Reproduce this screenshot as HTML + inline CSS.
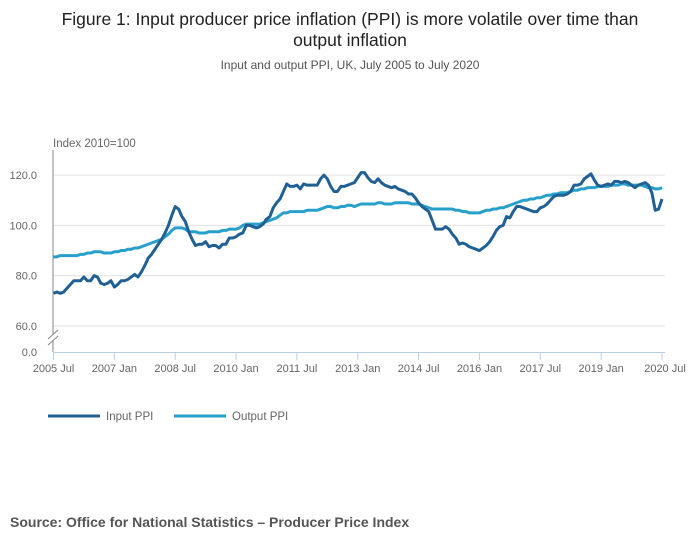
<!DOCTYPE html>
<html><head><meta charset="utf-8"><style>
body{margin:0;background:#fff;font-family:"Liberation Sans",sans-serif;}
svg text{font-family:"Liberation Sans",sans-serif;}
</style></head><body>
<svg width="700" height="549" viewBox="0 0 700 549" xmlns="http://www.w3.org/2000/svg">
<text x="350" y="25" text-anchor="middle" font-size="17.5" fill="#222">Figure 1: Input producer price inflation (PPI) is more volatile over time than</text>
<text x="350" y="46" text-anchor="middle" font-size="17.5" fill="#222">output inflation</text>
<text x="350" y="69" text-anchor="middle" font-size="12" fill="#555">Input and output PPI, UK, July 2005 to July 2020</text>
<text x="53" y="147" font-size="11.5" fill="#666">Index 2010=100</text>
<g id="grid"></g>
<g id="xaxis"></g>
<g id="series"></g>
<g>
<line x1="48" y1="416" x2="100" y2="416" stroke="#206095" stroke-width="3"/>
<text x="106" y="420" font-size="11.5" fill="#666">Input PPI</text>
<line x1="174" y1="416" x2="226" y2="416" stroke="#27a0cc" stroke-width="3"/>
<text x="232" y="420" font-size="11.5" fill="#666">Output PPI</text>
</g>
<text x="10" y="527" font-size="14" font-weight="bold" fill="#555">Source: Office for National Statistics – Producer Price Index</text>
</svg>
<script>
const yTicks = [60, 80, 100, 120];
const xTickLabels = ["2005 Jul","2007 Jan","2008 Jul","2010 Jan","2011 Jul","2013 Jan","2014 Jul","2016 Jan","2017 Jul","2019 Jan","2020 Jul"];
const inputPPI = [73,73.5,73,73.5,75,76.5,
78,78,78,79.5,78,78,80,79.5,77,76.5,77,78,
75.5,76.5,78,78,78.5,79.5,80.5,79.5,81.5,84,87,88.5,
90.5,92.5,94.5,97,100,104,107.5,106.5,103.5,101.5,97.5,94.5,
92,92.5,92.5,93.5,91.5,92,92,91,92.5,92.5,95,95,
95.5,96.5,97,100,100,99.5,99,99.5,100.5,102.5,103.5,107,
109,110.5,113.5,116.5,115.5,115.5,116,114.5,116.5,116,116,116,
116,118.5,120,118.5,115.5,113.5,113.5,115.5,115.5,116,116.5,117,
119,121,121,119,117.5,117,118.5,117,116,115.5,115,115.5,
114.5,114,113.5,112.5,112.5,111,109,107.5,106.5,105.5,102,98.5,
98.5,98.5,99.5,98.5,96.5,95,92.5,93,92.5,91.5,91,90.5,
90,91,92,93.5,95.5,98,99.5,100,103.5,103,105.5,107.5,
107.5,107,106.5,106,105.5,105.5,107,107.5,108.5,110,111.5,112,
112,112,112.5,113.5,116,116,116.5,118.5,119.5,120.5,118,116,
115.5,116,116.5,116,117.5,117.5,117,117.5,117,116,115,116,
116.5,117,116,113,106,106.5,110.5];
const outputPPI = [87.5,87.5,88,88,88,88,
88,88,88.5,88.5,89,89,89.5,89.5,89.5,89,89,89,
89.5,89.5,90,90,90.5,90.5,91,91,91.5,92,92.5,93,
93.5,94,94.5,95.5,96.5,98,99,99,99,98.5,97.5,97.5,
97.5,97,97,97,97.5,97.5,97.5,97.5,98,98,98.5,98.5,
98.5,99,100,100.5,100.5,100.5,100.5,100.5,101,101.5,102,102.5,
103,104,105,105,105.5,105.5,105.5,105.5,105.5,106,106,106,
106,106.5,107,107.5,107.5,107,107,107.5,107.5,108,108,107.5,
108,108.5,108.5,108.5,108.5,108.5,109,109,108.5,108.5,108.5,109,
109,109,109,109,108.5,108.5,108.5,108,107.5,107,106.5,106.5,
106.5,106.5,106.5,106.5,106.5,106,106,105.5,105.5,105,105,105,
105,105.5,106,106,106.5,106.5,107,107,107.5,108,108.5,109,
109.5,110,110,110.5,110.5,111,111,111.5,112,112,112.5,112.5,
113,113,113,113.5,114,114,114.5,114.5,115,115,115,115.5,
115.5,115.5,115.5,116,116,116,116.5,116.5,116,116,116,116,
116,115.5,115,115,114.5,114.5,115];

const NS="http://www.w3.org/2000/svg";
const x0=53.5, x1=662, nMonths=180;
const xScale = i => x0 + (x1-x0)*i/nMonths;
const yScale = v => v<=0 ? 352 : 326 - (v-60)*2.515;
function mk(tag, attrs, parent){const e=document.createElementNS(NS,tag);for(const k in attrs)e.setAttribute(k,attrs[k]);parent.appendChild(e);return e;}
const grid=document.getElementById('grid');
yTicks.forEach(t=>{
  const l=mk('line',{x1:53,x2:665,y1:yScale(t),y2:yScale(t),stroke:'#e0e0e0','stroke-width':1},grid);
  
  
  const tx=mk('text',{x:37,y:yScale(t)+4,'text-anchor':'end','font-size':11,fill:'#666'},grid);
  tx.textContent=t.toFixed(1);
  
  
});
const z=mk('text',{x:37,y:356,'text-anchor':'end','font-size':11,fill:'#666'},grid);
z.textContent='0.0';


const ya=mk('path',{d:'M53,150 V335 M53,341 V352',stroke:'#888','stroke-width':1,fill:'none'},grid);


const br=mk('path',{d:'M48,339 L58,330 M48,345 L58,336',stroke:'#888','stroke-width':1,fill:'none'},grid);


const xa=document.getElementById('xaxis');
const xl=mk('line',{x1:53,x2:665,y1:352.5,y2:352.5,stroke:'#b8cde6','stroke-width':1},xa);


xTickLabels.forEach((lab,k)=>{
  const x=xScale(k*18);
  const t=mk('line',{x1:x,x2:x,y1:352,y2:360,stroke:'#b8cde6','stroke-width':1},xa);
  
  
  const tx=mk('text',{x:k===10?x+3:x,y:372,'text-anchor':'middle','font-size':11,fill:'#666'},xa);
  tx.textContent=lab;
  
  
});
const sg=document.getElementById('series');
function line(vals,color,name){
  const d=vals.map((v,i)=>(i?'L':'M')+xScale(i).toFixed(2)+','+yScale(v).toFixed(2)).join(' ');
  const p=mk('path',{d:d,stroke:color,'stroke-width':3,fill:'none','stroke-linejoin':'round'},sg);
  
  
}
line(outputPPI,'#27a0cc','output-ppi-line');
line(inputPPI,'#206095','input-ppi-line');
</script>
</body></html>
